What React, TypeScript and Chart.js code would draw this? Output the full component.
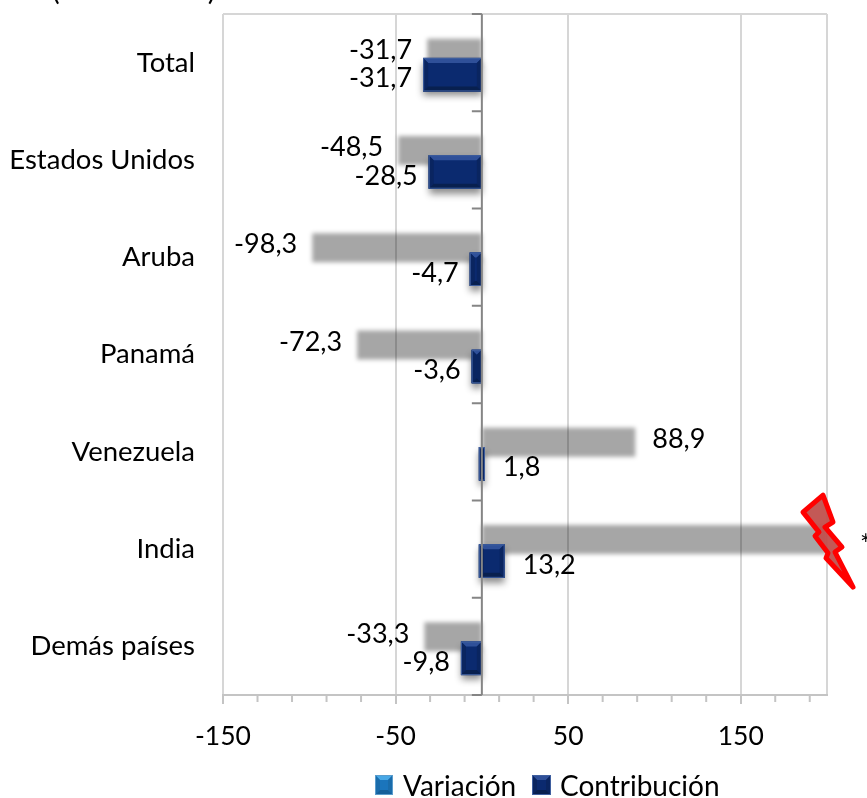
import React, { useEffect, useRef } from "react";
import { Chart, registerables } from "chart.js";

Chart.register(...registerables);

const categories = ["Total", "Estados Unidos", "Aruba", "Panamá", "Venezuela", "India", "Demás países"];
const variacion = [-31.7, -48.5, -98.3, -72.3, 88.9, 200, -33.3];
const contribucion = [-31.7, -28.5, -4.7, -3.6, 1.8, 13.2, -9.8];
const variacionLabels = ["-31,7", "-48,5", "-98,3", "-72,3", "88,9", "*", "-33,3"];
const contribucionLabels = ["-31,7", "-28,5", "-4,7", "-3,6", "1,8", "13,2", "-9,8"];
const majorTicks = [-150, -50, 50, 150, 200];
const minorTicks = [-130, -110, -90, -70, -30, -10, 10, 30, 70, 90, 110, 130, 170, 190];
const titleText = "(Variación %)";
const seriesNames = ["Variación", "Contribución"];

const FONT = "Lato, 'Open Sans', sans-serif";
const FONT_SIZE = 27.5;
const GRID = "#d6d6d6";
const AXIS = "#c4c4c4";
const ZERO = "#858585";

type Bevel = { fill: string; top: string; side: string; bottom: string; edge: string };
const darkBevel: Bevel = { fill: "#0b2a6f", top: "#2f5099", side: "#0a2560", bottom: "#08204f", edge: "#3f5f9f" };
const blueBevel: Bevel = { fill: "#1b75bc", top: "#48a8e6", side: "#1a6cab", bottom: "#155f99", edge: "#5a9ccc" };

function drawBevel(ctx: CanvasRenderingContext2D, x0: number, y0: number, x1: number, y1: number, c: Bevel) {
  const w = x1 - x0;
  const h = y1 - y0;
  const d = Math.min(5, w / 2, h / 2);
  const poly = (pts: number[][], color: string) => {
    ctx.beginPath();
    pts.forEach((p, i) => (i ? ctx.lineTo(p[0], p[1]) : ctx.moveTo(p[0], p[1])));
    ctx.closePath();
    ctx.fillStyle = color;
    ctx.fill();
  };
  ctx.fillStyle = c.fill;
  ctx.fillRect(x0, y0, w, h);
  poly([[x0, y0], [x1, y0], [x1 - d, y0 + d], [x0 + d, y0 + d]], c.top);
  poly([[x0, y0], [x0 + d, y0 + d], [x0 + d, y1 - d], [x0, y1]], c.side);
  poly([[x1, y0], [x1 - d, y0 + d], [x1 - d, y1 - d], [x1, y1]], c.side);
  poly([[x0, y1], [x0 + d, y1 - d], [x1 - d, y1 - d], [x1, y1]], c.bottom);
  ctx.strokeStyle = c.edge;
  ctx.lineWidth = 1;
  ctx.strokeRect(x0 + 0.5, y0 + 0.5, w - 1, h - 1);
}

const BOLT = [
  [-4, -54], [6, -27], [-2, -22], [15, -2], [8, 3], [26, 38], [-1, 9], [1, 4], [-12, -13], [-8, -17], [-24, -37],
];

const decorPlugin = {
  id: "decor",
  afterDatasetsUpdate(chart: any) {
    chart.getDatasetMeta(0).data.forEach((el: any) => {
      el.y += 2;
    });
    chart.getDatasetMeta(1).data.forEach((el: any, i: number) => {
      el.y += 0.5;
      if (contribucion[i] < 0) el.x -= 4;
      else el.base -= 3;
    });
  },
  beforeDraw(chart: any) {
    const { ctx, chartArea: a } = chart;
    ctx.save();
    ctx.fillStyle = "#ffffff";
    ctx.fillRect(0, 0, chart.width, chart.height);
    ctx.strokeStyle = GRID;
    ctx.lineWidth = 2;
    ctx.beginPath();
    ctx.moveTo(a.left, a.top);
    ctx.lineTo(a.right, a.top);
    ctx.stroke();
    ctx.restore();
  },
  beforeDatasetDraw(chart: any, args: any) {
    if (args.index === 1) return false;
    chart.ctx.save();
    chart.ctx.filter = "blur(2px)";
    return true;
  },
  afterDatasetDraw(chart: any, args: any) {
    if (args.index === 0) chart.ctx.restore();
  },
  afterDatasetsDraw(chart: any) {
    const { ctx, chartArea: a, scales } = chart;
    const x = scales.x;
    const y = scales.y;
    const x0 = x.getPixelForValue(0);
    const meta = chart.getDatasetMeta(1);

    // dark bars with a soft shadow, then a bevel
    meta.data.forEach((el: any) => {
      const left = Math.min(el.x, el.base);
      const right = Math.max(el.x, el.base);
      const top = el.y - el.height / 2;
      ctx.save();
      ctx.shadowColor = "rgba(0,0,0,0.45)";
      ctx.shadowBlur = 7;
      ctx.shadowOffsetY = 5;
      ctx.fillStyle = darkBevel.fill;
      ctx.fillRect(left, top, right - left, el.height);
      ctx.restore();
      drawBevel(ctx, left, top, right, top + el.height, darkBevel);
    });

    // zero axis with category separators
    ctx.save();
    ctx.strokeStyle = ZERO;
    ctx.lineWidth = 2;
    ctx.beginPath();
    ctx.moveTo(x0, a.top);
    ctx.lineTo(x0, a.bottom);
    const step = y.getPixelForValue(1) - y.getPixelForValue(0);
    categories.forEach((_, i) => {
      const c = y.getPixelForValue(i);
      ctx.moveTo(x0 - 10, c - step / 2);
      ctx.lineTo(x0, c - step / 2);
    });
    ctx.moveTo(x0 - 10, a.bottom);
    ctx.lineTo(x0, a.bottom);
    ctx.stroke();

    // minor ticks of the value axis
    ctx.strokeStyle = AXIS;
    ctx.beginPath();
    minorTicks.forEach((v) => {
      const px = x.getPixelForValue(v);
      ctx.moveTo(px, a.bottom);
      ctx.lineTo(px, a.bottom + 7);
    });
    ctx.stroke();
    ctx.restore();

    // lightning bolt on the cut India bar
    const bx = x.getPixelForValue(200);
    const by = y.getPixelForValue(5);
    ctx.save();
    ctx.beginPath();
    BOLT.forEach((p, i) => (i ? ctx.lineTo(bx + p[0], by + p[1]) : ctx.moveTo(bx + p[0], by + p[1])));
    ctx.closePath();
    ctx.fillStyle = "rgba(192,80,77,0.95)";
    ctx.fill();
    ctx.strokeStyle = "#ff0000";
    ctx.lineWidth = 5;
    ctx.lineJoin = "round";
    ctx.stroke();
    ctx.restore();
  },
  afterDraw(chart: any) {
    const { ctx } = chart;
    ctx.save();
    ctx.font = `27px ${FONT}`;
    ctx.fillStyle = "#000000";
    ctx.textBaseline = "middle";

    // value labels
    const label = (dsIndex: number, texts: string[], dy: number, gapNeg: number, gapPos: number) => {
      chart.getDatasetMeta(dsIndex).data.forEach((el: any, i: number) => {
        const neg = el.x < el.base;
        ctx.textAlign = neg ? "right" : "left";
        const star = texts[i] === "*";
        const px = neg ? el.x - gapNeg : el.x + (star ? 33 : gapPos);
        ctx.fillText(texts[i], px, el.y + (star ? 6 : dy));
      });
    };
    label(0, variacionLabels, -3, 15, 17);
    label(1, contribucionLabels, 4, 11, 18);

    // title, cut by the top of the picture
    ctx.textAlign = "left";
    ctx.textBaseline = "alphabetic";
    ctx.font = `29px ${FONT}`;
    ctx.fillText(titleText, 52, 0);

    // legend
    const baseY = 786;
    drawBevel(ctx, 375, baseY - 11, 393, baseY + 9, blueBevel);
    drawBevel(ctx, 532, baseY - 11, 551, baseY + 9, darkBevel);
    ctx.fillStyle = "#000000";
    ctx.textBaseline = "middle";
    ctx.font = `28px ${FONT}`;
    ctx.fillText(seriesNames[0], 403, baseY + 1);
    ctx.fillText(seriesNames[1], 560, baseY + 1);
    ctx.restore();
  },
};

export default function App() {
  const ref = useRef<HTMLCanvasElement>(null);
  useEffect(() => {
    const chart = new Chart(ref.current as HTMLCanvasElement, {
      type: "bar",
      data: {
        labels: categories,
        datasets: [
          {
            label: seriesNames[0],
            data: variacion,
            backgroundColor: "rgba(0,0,0,0.35)",
            categoryPercentage: 0.473,
            barPercentage: 1.26,
          },
          {
            label: seriesNames[1],
            data: contribucion,
            backgroundColor: darkBevel.fill,
            categoryPercentage: 0.473,
            barPercentage: 1.457,
          },
        ],
      },
      options: {
        indexAxis: "y",
        responsive: false,
        animation: false,
        devicePixelRatio: 1,
        layout: { autoPadding: false, padding: { top: 14, right: 40, left: 0, bottom: 0 } },
        plugins: { legend: { display: false }, title: { display: false }, tooltip: { enabled: false } },
        scales: {
          x: {
            type: "linear",
            min: -150,
            max: 200,
            afterBuildTicks: (s: any) => {
              s.ticks = majorTicks.map((value) => ({ value }));
            },
            afterFit: (s: any) => {
              s.height = 103;
              s.paddingLeft = 0;
              s.paddingRight = 0;
              s.paddingTop = 0;
              s.paddingBottom = 0;
            },
            border: { display: true, color: AXIS, width: 2 },
            grid: {
              color: GRID,
              lineWidth: 2,
              tickLength: 9,
              tickColor: (c: any) => (c.tick && c.tick.value === 200 ? "rgba(0,0,0,0)" : AXIS),
            },
            ticks: {
              autoSkip: false,
              maxRotation: 0,
              padding: 17,
              color: "#000000",
              font: { family: FONT, size: 26.5 },
              callback: (v: any) => (v === 200 ? "" : String(v)),
            },
          },
          y: {
            type: "category",
            afterFit: (s: any) => {
              s.width = 223;
              s.paddingLeft = 0;
              s.paddingRight = 0;
              s.paddingTop = 0;
              s.paddingBottom = 0;
            },
            border: { display: false },
            grid: { display: false, drawTicks: false },
            ticks: {
              autoSkip: false,
              padding: 28,
              color: "#000000",
              font: { family: FONT, size: FONT_SIZE },
            },
          },
        },
      },
      plugins: [decorPlugin],
    } as any);
    return () => chart.destroy();
  }, []);
  return (
    <div style={{ position: "absolute", left: 0, top: 0, width: 867, height: 798, overflow: "hidden", background: "#fff" }}>
      <canvas ref={ref} width={867} height={798} style={{ display: "block" }} />
    </div>
  );
}
